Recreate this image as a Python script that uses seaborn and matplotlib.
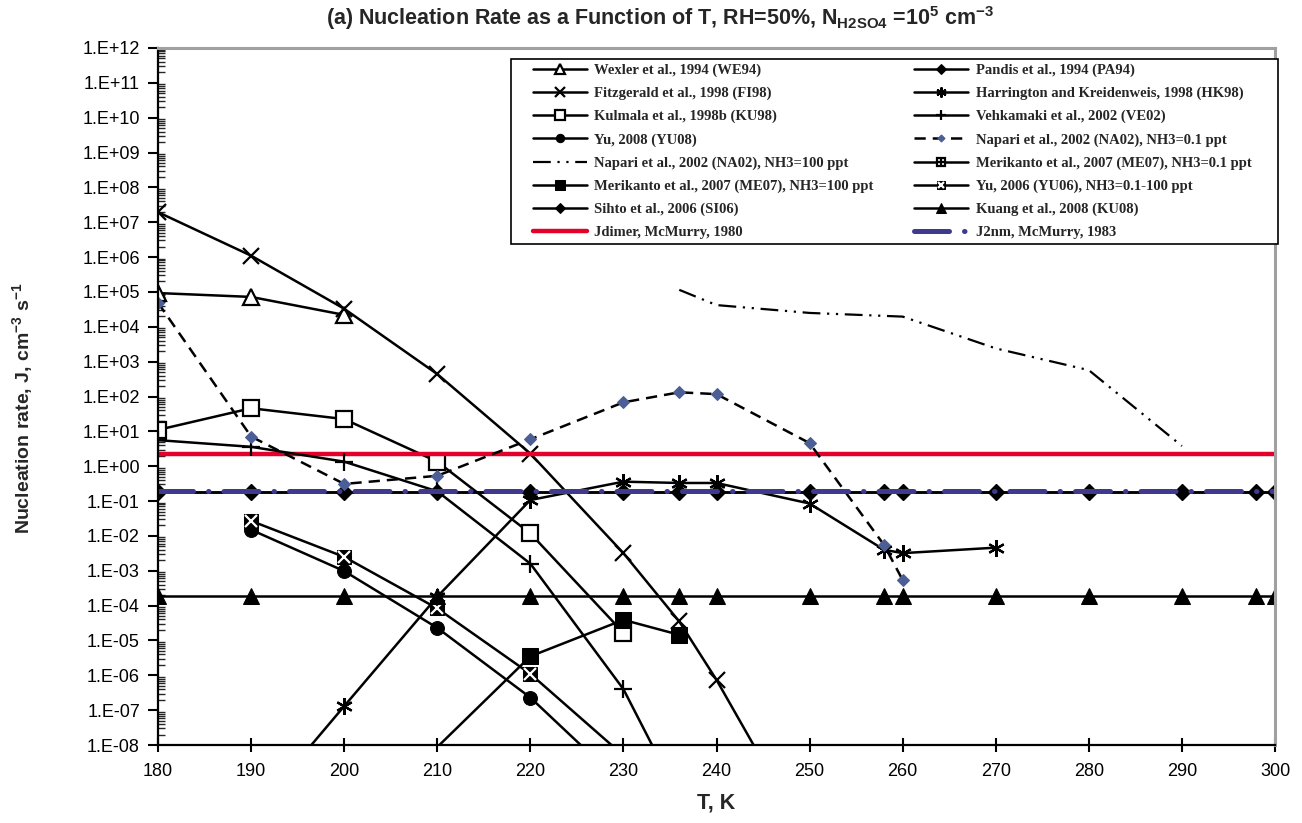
import numpy as np
import matplotlib
matplotlib.use("Agg")
import matplotlib.pyplot as plt
from matplotlib.lines import Line2D
from matplotlib.patches import Rectangle
from matplotlib.ticker import FuncFormatter, LogLocator, NullFormatter
import seaborn as sns

# data (T in K, J in cm-3 s-1)
we94_T = [180, 190, 200]
we94_J = [9.3e4, 7.2e4, 2.2e4]

fi98_T = [180, 190, 200, 210, 220, 230, 236, 240, 250]
fi98_J = [1.95e7, 1.1e6, 3.3e4, 4.4e2, 2.3, 3.2e-3, 3.5e-5, 7.4e-7, 1.5e-11]

ku98_T = [180, 190, 200, 210, 220, 230]
ku98_J = [11, 46, 22.5, 1.35, 1.18e-2, 1.66e-5]

yu08_T = [190, 200, 210, 220, 230]
yu08_J = [1.5e-2, 9.8e-4, 2.3e-5, 2.3e-7, 7e-10]

yu06_T = [190, 200, 210, 220, 230]
yu06_J = [2.7e-2, 2.5e-3, 8.3e-5, 1.1e-6, 5e-9]

hk98_T = [190, 200, 210, 220, 230, 236, 240, 250, 258, 260, 270]
hk98_J = [9e-11, 1.3e-7, 1.8e-4, 0.107, 0.36, 0.33, 0.33, 0.085, 4.0e-3, 3.2e-3, 4.6e-3]

ve02_T = [180, 190, 200, 210, 220, 230, 240]
ve02_J = [5.6, 3.6, 1.35, 0.19, 1.6e-3, 4e-7, 2.5e-12]

na02a_T = [180, 190, 200, 210, 220, 230, 236, 240, 250, 258, 260]
na02a_J = [4.9e4, 7.1, 0.31, 0.53, 5.9, 68, 132, 117, 4.6, 5.5e-3, 5.4e-4]

na02b_T = [236, 240, 250, 260, 270, 280, 290]
na02b_J = [1.15e5, 4.2e4, 2.5e4, 1.96e4, 2.4e3, 570, 3.8]

me07_T = [210, 220, 230, 236]
me07_J = [8.7e-9, 3.5e-6, 3.9e-5, 1.45e-5]

flat_T = [180, 190, 200, 210, 220, 230, 236, 240, 250, 258, 260, 270, 280, 290, 298, 300]
pa94_J = [0.185, 0.185, 0.185, 0.185, 0.185, 0.185, 0.185, 0.185,
          0.185, 0.185, 0.185, 0.185, 0.185, 0.185, 0.185, 0.185]
si06_J = [0.185, 0.185, 0.185, 0.185, 0.185, 0.185, 0.185, 0.185,
          0.185, 0.185, 0.185, 0.185, 0.185, 0.185, 0.185, 0.185]
ku08_J = [1.85e-4, 1.85e-4, 1.85e-4, 1.85e-4, 1.85e-4, 1.85e-4, 1.85e-4, 1.85e-4,
          1.85e-4, 1.85e-4, 1.85e-4, 1.85e-4, 1.85e-4, 1.85e-4, 1.85e-4, 1.85e-4]

mcm_T = [180, 300]
jdimer_J = [2.24, 2.24]
j2nm_J = [0.19, 0.19]

xticks = [180, 190, 200, 210, 220, 230, 240, 250, 260, 270, 280, 290, 300]

sns.set_theme(style="ticks")
plt.rcParams["font.family"] = ["Liberation Sans", "DejaVu Sans"]
plt.rcParams["mathtext.fontset"] = "custom"
plt.rcParams["mathtext.bf"] = "Liberation Sans:bold"
plt.rcParams["mathtext.rm"] = "Liberation Sans:bold"
plt.rcParams["mathtext.default"] = "bf"

fig = plt.figure(figsize=(13.02, 8.23), dpi=100)
ax = fig.add_axes([158 / 1302, 78 / 823, 1117 / 1302, 697 / 823])
ax.set_yscale("log")

LW = 1.8
BLUE = "#4C5E96"
base = dict(ax=ax, sort=False, estimator=None, color="black", lw=LW, markeredgecolor="black")

sns.lineplot(x=we94_T, y=we94_J, marker="^", ms=11, mfc="white", mew=1.6, label="Wexler et al., 1994 (WE94)", **base)
sns.lineplot(x=fi98_T, y=fi98_J, marker="x", ms=12, mew=1.6, label="Fitzgerald et al., 1998 (FI98)", **base)
sns.lineplot(x=ku98_T, y=ku98_J, marker="s", ms=11, mfc="white", mew=1.6, label="Kulmala et al., 1998b (KU98)", **base)
sns.lineplot(x=yu08_T, y=yu08_J, marker="o", ms=10, mfc="black", label="Yu, 2008 (YU08)", **base)
sns.lineplot(x=na02b_T, y=na02b_J, ax=ax, sort=False, estimator=None, color="black", lw=1.6,
             dashes=False, label="Napari et al., 2002 (NA02), NH3=100 ppt")
ax.lines[-1].set_dashes([8, 3, 1, 3, 1, 3])
sns.lineplot(x=me07_T, y=me07_J, marker="s", ms=11, mfc="black", markevery=[1, 2, 3],
             label="Merikanto et al., 2007 (ME07), NH3=100 ppt", **base)
sns.lineplot(x=flat_T, y=si06_J, marker="D", ms=8, mfc="black", label="Sihto et al., 2006 (SI06)", **base)
sns.lineplot(x=mcm_T, y=jdimer_J, ax=ax, sort=False, estimator=None, color="#E3002B", lw=3.2,
             label="Jdimer, McMurry, 1980")

sns.lineplot(x=flat_T, y=pa94_J, marker="D", ms=8, mfc="black", label="Pandis et al., 1994 (PA94)", **base)
sns.lineplot(x=hk98_T, y=hk98_J, marker=(6, 2, 0), ms=12, mew=1.6, label="Harrington and Kreidenweis, 1998 (HK98)", **base)
sns.lineplot(x=ve02_T, y=ve02_J, marker="+", ms=13, mew=1.6, label="Vehkamaki et al., 2002 (VE02)", **base)
sns.lineplot(x=na02a_T, y=na02a_J, ax=ax, sort=False, estimator=None, color="black", lw=LW,
             marker="D", ms=6, mfc=BLUE, markeredgecolor=BLUE, label="Napari et al., 2002 (NA02), NH3=0.1 ppt")
ax.lines[-1].set_dashes([4.5, 2.8])
sns.lineplot(x=yu06_T, y=yu06_J, marker="s", ms=10, mfc="black", label="Yu, 2006 (YU06), NH3=0.1-100 ppt", **base)
ax.plot(yu06_T, yu06_J, ls="none", marker="x", ms=8, mew=1.6, color="white")
sns.lineplot(x=flat_T, y=ku08_J, marker="^", ms=11, mfc="black", label="Kuang et al., 2008 (KU08)", **base)
sns.lineplot(x=mcm_T, y=j2nm_J, ax=ax, sort=False, estimator=None, color="#3F3A8E", lw=3.6,
             label="J2nm, McMurry, 1983")
ax.lines[-1].set_dashes([7, 3, 0.1, 3])
ax.lines[-1].set_dash_capstyle("round")

ax.set_xlim(180, 300)
ax.set_ylim(1e-8, 1e12)
ax.set_xticks(xticks)
ax.yaxis.set_major_locator(LogLocator(base=10, numticks=30))
ax.yaxis.set_minor_locator(LogLocator(base=10, subs=np.arange(2, 10), numticks=30))
ax.yaxis.set_minor_formatter(NullFormatter())
ax.yaxis.set_major_formatter(FuncFormatter(lambda v, p: "1.E%+03d" % int(round(np.log10(v)))))
ax.tick_params(axis="x", which="major", direction="inout", length=10, width=1.5, labelsize=13, pad=8, colors="black")
ax.tick_params(axis="y", which="major", direction="out", length=7, width=1.5, labelsize=13, pad=6, colors="black")
ax.tick_params(axis="y", which="minor", direction="in", length=5, width=1.0)
for s in ["left", "bottom"]:
    ax.spines[s].set_color("black")
    ax.spines[s].set_linewidth(1.6)
for s in ["top", "right"]:
    ax.spines[s].set_color("#A0A0A0")
    ax.spines[s].set_linewidth(2.2)
ax.grid(False)

# legend, ordered column by column
h, l = ax.get_legend_handles_labels()
lookup = dict(zip(l, h))
yu06_h = (lookup["Yu, 2006 (YU06), NH3=0.1-100 ppt"],
          Line2D([], [], ls="none", marker="x", ms=8, mew=1.6, color="white"))
me07b_h = (Line2D([], [], color="black", lw=LW, marker="s", ms=10, mfc="white", mec="black", mew=1.6),
           Line2D([], [], ls="none", marker="+", ms=7, mew=1.6, color="black"))
order = ["Wexler et al., 1994 (WE94)", "Fitzgerald et al., 1998 (FI98)", "Kulmala et al., 1998b (KU98)",
         "Yu, 2008 (YU08)", "Napari et al., 2002 (NA02), NH3=100 ppt",
         "Merikanto et al., 2007 (ME07), NH3=100 ppt", "Sihto et al., 2006 (SI06)", "Jdimer, McMurry, 1980",
         "Pandis et al., 1994 (PA94)", "Harrington and Kreidenweis, 1998 (HK98)", "Vehkamaki et al., 2002 (VE02)",
         "Napari et al., 2002 (NA02), NH3=0.1 ppt", "Merikanto et al., 2007 (ME07), NH3=0.1 ppt",
         "Yu, 2006 (YU06), NH3=0.1-100 ppt", "Kuang et al., 2008 (KU08)", "J2nm, McMurry, 1983"]
handles = []
for name in order:
    if name.startswith("Yu, 2006"):
        handles.append(yu06_h)
    elif name.startswith("Merikanto et al., 2007 (ME07), NH3=0.1"):
        handles.append(me07b_h)
    else:
        handles.append(lookup[name])
leg = ax.legend(handles, order, ncol=2, loc="upper left", bbox_to_anchor=(0.3357, 0.978),
                borderaxespad=0, borderpad=0, frameon=False,
                markerscale=0.6, handlelength=3.7, handletextpad=0.5, columnspacing=2.8,
                labelspacing=0.67,
                prop={"family": "Liberation Serif", "weight": "bold", "size": 10.5})
ax.add_patch(Rectangle((0.316, 0.7188), 0.6867, 0.2654, transform=ax.transAxes, fill=True,
                       facecolor="white", edgecolor="black", lw=1.2, clip_on=False, zorder=4))
leg.set_zorder(5)

fig.text(0.507, 0.978, r"(a) Nucleation Rate as a Function of T, RH=50%, N$_{H2SO4}$ =10$^{5}$ cm$^{-3}$",
         ha="center", va="center", fontsize=15.5, fontweight="bold")
fig.text(0.017, 0.504, r"Nucleation rate, J, cm$^{-3}$ s$^{-1}$", rotation=90, ha="center", va="center",
         fontsize=14, fontweight="bold")
fig.text(0.55, 0.024, "T, K", ha="center", va="center", fontsize=15.5, fontweight="bold")

fig.savefig("out.png", dpi=100)
